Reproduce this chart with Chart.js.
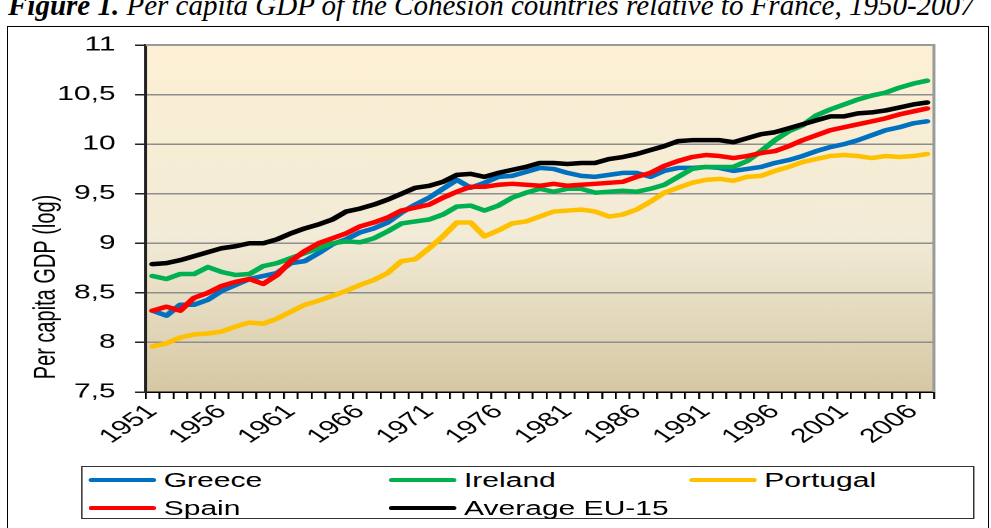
<!DOCTYPE html>
<html>
<head>
<meta charset="utf-8">
<script src="https://cdn.jsdelivr.net/npm/chart.js@4.4.1/dist/chart.umd.min.js"></script>
<style>
html, body { margin: 0; padding: 0; background: #fff; overflow: hidden; }
body { width: 991px; height: 528px; position: relative; }
#title { position: absolute; left: 8px; top: -9px; font: italic 29px "Liberation Serif", "Times New Roman", serif; line-height: 29px; white-space: nowrap; }
#title b { font-weight: bold; }
#frame { position: absolute; left: 7px; top: 26px; width: 982px; height: 540px; border: 1.5px solid #000; box-sizing: border-box; }
/* the original picture is stretched horizontally, so the chart is drawn narrow and scaled */
#stage { position: absolute; left: 0; top: 0; width: 660px; height: 528px; transform: scaleX(1.50152); transform-origin: 0 0; }
#chart { position: absolute; left: 0; top: 0; }
#legend { position: absolute; left: 54px; top: 466px; width: 595px; height: 53px; border: 1.3px solid #333; box-sizing: border-box; background: #fff;
          font: 20px "Liberation Sans", Arial, sans-serif; color: #000; }
.item { position: absolute; height: 24px; display: flex; align-items: center; white-space: nowrap; }
.item i { display: inline-block; width: 45px; height: 4px; border-radius: 2px; margin-right: 5px; }
</style>
</head>
<body>
<div id="title"><b>Figure 1.</b> Per capita GDP of the Cohesion countries relative to France, 1950-2007</div>
<div id="frame"></div>
<div id="stage">
  <canvas id="chart" width="660" height="528"></canvas>
  <div id="legend"></div>
</div>
<script>
const years = [];
for (let y = 1951; y <= 2007; y++) years.push(String(y));
const xTickLabels = ['1951', '1956', '1961', '1966', '1971', '1976', '1981', '1986', '1991', '1996', '2001', '2006'];
const yTicks = [7.5, 8, 8.5, 9, 9.5, 10, 10.5, 11];
const yTickLabels = ['7,5', '8', '8,5', '9', '9,5', '10', '10,5', '11'];
const yTitle = 'Per capita GDP (log)';

const greece = [8.32, 8.27, 8.38, 8.38, 8.43, 8.52, 8.58, 8.64, 8.67, 8.70,
  8.80, 8.82, 8.90, 8.99, 9.04, 9.11, 9.15, 9.21, 9.31, 9.39,
  9.46, 9.55, 9.64, 9.56, 9.61, 9.67, 9.68, 9.72, 9.76, 9.75,
  9.71, 9.68, 9.67, 9.69, 9.71, 9.71, 9.67, 9.73, 9.76, 9.76,
  9.77, 9.76, 9.73, 9.75, 9.77, 9.81, 9.84, 9.88, 9.93, 9.97,
  10.00, 10.04, 10.09, 10.14, 10.17, 10.21, 10.23];
const ireland = [8.67, 8.64, 8.69, 8.69, 8.76, 8.71, 8.68, 8.69, 8.77, 8.80,
  8.85, 8.90, 8.95, 9.00, 9.02, 9.01, 9.05, 9.12, 9.20, 9.22,
  9.24, 9.29, 9.37, 9.38, 9.33, 9.38, 9.46, 9.51, 9.55, 9.52,
  9.55, 9.55, 9.51, 9.52, 9.53, 9.52, 9.55, 9.59, 9.67, 9.75,
  9.77, 9.77, 9.77, 9.83, 9.93, 10.04, 10.13, 10.19, 10.29, 10.35,
  10.40, 10.45, 10.49, 10.52, 10.57, 10.61, 10.64];
const portugal = [7.96, 7.99, 8.05, 8.08, 8.09, 8.11, 8.16, 8.20, 8.19, 8.24,
  8.31, 8.38, 8.42, 8.47, 8.52, 8.58, 8.63, 8.70, 8.82, 8.84,
  8.95, 9.07, 9.21, 9.21, 9.07, 9.13, 9.20, 9.22, 9.27, 9.32,
  9.33, 9.34, 9.32, 9.27, 9.29, 9.34, 9.42, 9.51, 9.56, 9.61,
  9.64, 9.65, 9.63, 9.67, 9.68, 9.73, 9.77, 9.82, 9.85, 9.88,
  9.89, 9.88, 9.86, 9.88, 9.87, 9.88, 9.90];
const spain = [8.32, 8.36, 8.32, 8.45, 8.50, 8.57, 8.61, 8.64, 8.59, 8.68,
  8.82, 8.92, 9.00, 9.05, 9.10, 9.17, 9.21, 9.26, 9.33, 9.36,
  9.39, 9.46, 9.52, 9.57, 9.57, 9.59, 9.60, 9.59, 9.58, 9.60,
  9.58, 9.59, 9.60, 9.61, 9.62, 9.67, 9.71, 9.78, 9.83, 9.87,
  9.89, 9.88, 9.86, 9.88, 9.91, 9.93, 9.98, 10.04, 10.09, 10.14,
  10.17, 10.20, 10.23, 10.26, 10.30, 10.33, 10.36];
const eu15 = [8.79, 8.80, 8.83, 8.87, 8.91, 8.95, 8.97, 9.00, 9.00, 9.04,
  9.10, 9.15, 9.19, 9.24, 9.32, 9.35, 9.39, 9.44, 9.50, 9.56,
  9.58, 9.62, 9.69, 9.70, 9.67, 9.71, 9.74, 9.77, 9.81, 9.81,
  9.80, 9.81, 9.81, 9.85, 9.87, 9.90, 9.94, 9.98, 10.03, 10.04,
  10.04, 10.04, 10.02, 10.06, 10.10, 10.12, 10.16, 10.20, 10.24, 10.28,
  10.28, 10.31, 10.32, 10.34, 10.37, 10.40, 10.42];

const FONT = '"Liberation Sans", Arial, sans-serif';

const series = [
  { label: 'Greece', data: greece, color: '#0070C0' },
  { label: 'Ireland', data: ireland, color: '#00B050' },
  { label: 'Portugal', data: portugal, color: '#FFC000' },
  { label: 'Spain', data: spain, color: '#FF0000' },
  { label: 'Average EU-15', data: eu15, color: '#000000' }
];

// plot background, right/top border and the axis title
const plotDeco = {
  id: 'plotDeco',
  beforeDraw(chart) {
    const { ctx, chartArea: a } = chart;
    const g = ctx.createLinearGradient(0, a.top, 0, a.bottom);
    g.addColorStop(0, '#FDF0D4');
    g.addColorStop(0.55, '#F2EBD7');
    g.addColorStop(1, '#D6C8A4');
    ctx.save();
    ctx.fillStyle = g;
    ctx.fillRect(a.left, a.top, a.right - a.left, a.bottom - a.top);
    ctx.restore();
  },
  afterDraw(chart) {
    const { ctx, chartArea: a } = chart;
    ctx.save();
    ctx.strokeStyle = '#9A9A9A';
    ctx.lineWidth = 2;
    ctx.beginPath();
    ctx.moveTo(a.left, a.top);
    ctx.lineTo(a.right, a.top);
    ctx.lineTo(a.right, a.bottom);
    ctx.stroke();
    ctx.translate(31, 287);
    ctx.rotate(-Math.PI / 2);
    ctx.font = '20px ' + FONT;
    ctx.fillStyle = '#000';
    ctx.textAlign = 'center';
    ctx.textBaseline = 'middle';
    ctx.fillText(yTitle, 0, 0);
    ctx.restore();
  }
};

const chart = new Chart(document.getElementById('chart'), {
  type: 'line',
  data: {
    labels: years,
    datasets: series.map((s, i) => ({
      label: s.label,
      data: s.data,
      borderColor: s.color,
      backgroundColor: s.color,
      borderWidth: 4.5,
      pointRadius: 0,
      tension: 0,
      borderCapStyle: 'round',
      borderJoinStyle: 'round',
      order: series.length - i   // later series on top
    }))
  },
  options: {
    responsive: false,
    animation: false,
    devicePixelRatio: 2,
    layout: { padding: { left: 0, top: 45, right: 38, bottom: 76 } },
    plugins: { legend: { display: false }, tooltip: { enabled: false } },
    scales: {
      x: {
        offset: true,
        grid: { offset: true, drawOnChartArea: false, tickLength: 7, color: '#000', lineWidth: 1.3 },
        border: { color: '#000', width: 1.5 },
        ticks: {
          autoSkip: false, minRotation: 45, maxRotation: 45, padding: 1, color: '#000',
          font: { family: FONT, size: 20 },
          callback: (v, i) => xTickLabels.includes(years[i]) ? years[i] : ''
        },
        afterFit: s => { s.height = 60; }
      },
      y: {
        min: 7.5, max: 11,
        afterBuildTicks: s => { s.ticks = yTicks.map(v => ({ value: v })); },
        grid: { color: '#8E8E8E', lineWidth: 1.5, tickLength: 7, tickColor: '#222' },
        border: { color: '#222', width: 2 },
        ticks: {
          padding: 13, color: '#000', font: { family: FONT, size: 20 },
          callback: (v, i) => yTickLabels[i]
        },
        afterFit: s => { s.width = 97; }
      }
    }
  },
  plugins: [plotDeco]
});

// legend in three columns, boxed
const legend = document.getElementById('legend');
series.forEach((s, i) => {
  const el = document.createElement('div');
  el.className = 'item';
  el.style.left = (4 + (i % 3) * 200) + 'px';
  el.style.top = (i < 3 ? 1 : 29) + 'px';
  el.innerHTML = '<i style="background:' + s.color + '"></i>' + s.label;
  legend.appendChild(el);
});
</script>
</body>
</html>
